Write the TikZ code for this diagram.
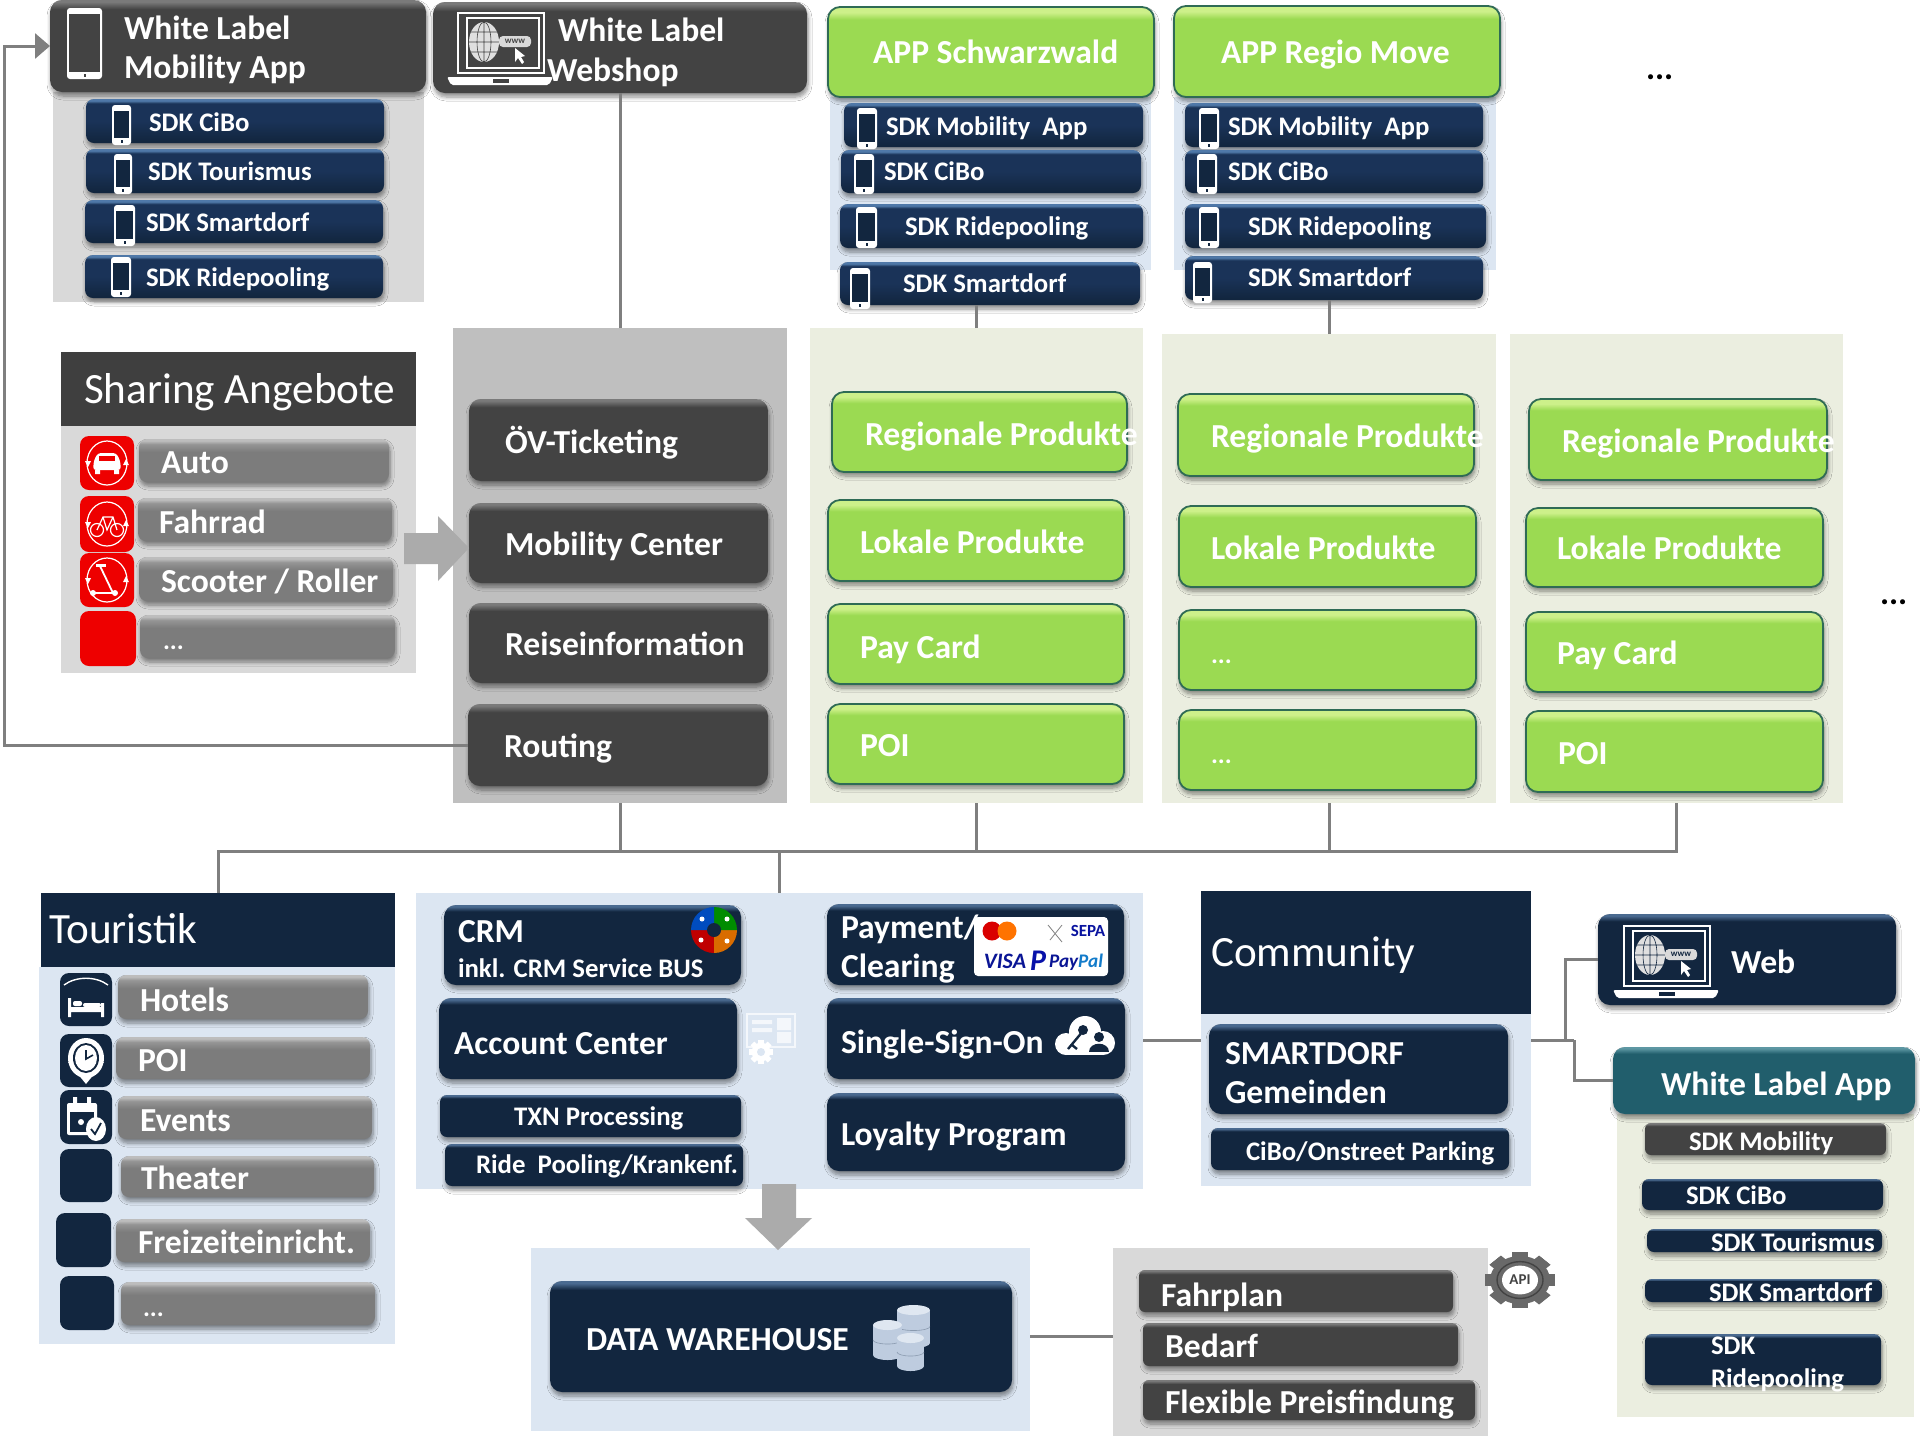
\documentclass[tikz,border=0pt]{standalone}
\usepackage{fontspec}
\setmainfont{Carlito}
\usetikzlibrary{shadows,shadows.blur,arrows.meta}
\definecolor{cnavy}{HTML}{12263F}
\definecolor{cnavyT}{HTML}{4A6A90}
\definecolor{csdk}{HTML}{1A3358}
\definecolor{csdkT}{HTML}{4F78A8}
\definecolor{cdark}{HTML}{434343}
\definecolor{cdarkT}{HTML}{7A7A7A}
\definecolor{cgrey}{HTML}{7C7C7C}
\definecolor{cgreyM}{HTML}{959595}
\definecolor{cgreyT}{HTML}{BDBDBD}
\definecolor{cgreen}{HTML}{9BDA52}
\definecolor{cgreenT}{HTML}{CDF08A}
\definecolor{cgreenB}{HTML}{74B23C}
\definecolor{cgreenL}{HTML}{2F6B55}
\definecolor{cteal}{HTML}{215E6C}
\definecolor{ctealT}{HTML}{5D97A3}
\definecolor{cblue}{HTML}{DCE6F2}
\definecolor{cbeige}{HTML}{EBEEE0}
\definecolor{cpgrey}{HTML}{D9D9D9}
\definecolor{ccore}{HTML}{BFBFBF}
\definecolor{chead}{HTML}{3F3F3F}
\definecolor{cline}{HTML}{7F7F7F}
\definecolor{carrow}{HTML}{ABABAB}
\definecolor{cred}{HTML}{EE0000}
\definecolor{ccyl}{HTML}{BECCDF}
\definecolor{ccylT}{HTML}{DFE7F1}
\pgfdeclareverticalshading{shnavy}{100bp}{color(0bp)=(cnavy); color(71bp)=(cnavy); color(74bp)=(cnavyT); color(100bp)=(cnavyT)}
\pgfdeclareverticalshading{shsdk}{100bp}{color(0bp)=(cnavy); color(27bp)=(cnavy); color(50bp)=(csdk); color(70bp)=(csdk); color(73bp)=(csdkT); color(100bp)=(csdkT)}
\pgfdeclareverticalshading{shdark}{100bp}{color(0bp)=(cdark); color(70bp)=(cdark); color(74bp)=(cdarkT); color(100bp)=(cdarkT)}
\pgfdeclareverticalshading{shgrey}{100bp}{color(0bp)=(cgrey!70!black); color(27bp)=(cgrey); color(60bp)=(cgrey); color(69bp)=(cgreyM); color(73bp)=(cgreyT); color(100bp)=(cgreyT)}
\pgfdeclareverticalshading{shgreen}{100bp}{color(0bp)=(cgreenB); color(27bp)=(cgreen); color(68bp)=(cgreen); color(72bp)=(cgreenT); color(100bp)=(cgreenT)}
\pgfdeclareverticalshading{shteal}{100bp}{color(0bp)=(cteal); color(70bp)=(cteal); color(74bp)=(ctealT); color(100bp)=(ctealT)}
\tikzset{
  x=0.5pt,y=-0.5pt,
  panelbox/.style={fill=#1,inner sep=0pt,outer sep=0pt},
  btnbase/.style={inner sep=0pt,outer sep=0pt,rounded corners=6pt,
    blur shadow={shadow xshift=0.5pt,shadow yshift=-2pt,shadow blur radius=2pt,shadow blur steps=6,shadow opacity=45}},
  btnnavy/.style={btnbase,shading=shnavy},
  btnsdk/.style={btnbase,rounded corners=4pt,shading=shsdk},
  btnsmallnavy/.style={btnbase,rounded corners=3.5pt,shading=shnavy},
  btndark/.style={btnbase,shading=shdark},
  btnsmalldark/.style={btnbase,rounded corners=3pt,shading=shdark},
  btngrey/.style={btnbase,rounded corners=4pt,shading=shgrey},
  btngreen/.style={btnbase,shading=shgreen,draw=cgreenL,line width=.9pt},
  btnteal/.style={btnbase,shading=shteal},
  iconbox/.style={inner sep=0pt,outer sep=0pt,rounded corners=4.5pt,fill=#1},
  conn/.style={draw=cline,line width=1.5pt},
  lbase/.style={anchor=west,inner sep=0pt,outer sep=0pt,text=white},
  lmain/.style={lbase,text height=1.05em,text depth=.05em,font=\bfseries\fontsize{16.8}{18}\selectfont},
  lsmall/.style={lbase,text height=.9em,text depth=.1em,font=\bfseries\fontsize{13.4}{15}\selectfont},
  lhead/.style={lbase,text height=1.14em,text depth=.06em,font=\fontsize{21.6}{24}\selectfont},
  ldots/.style={anchor=base west,inner sep=0pt,outer sep=0pt,text=white,font=\bfseries\fontsize{13}{15}\selectfont},
  lblack/.style={anchor=base west,inner sep=0pt,outer sep=0pt,text=black,font=\bfseries\fontsize{17}{18}\selectfont},
}
\newcommand{\bx}[6]{\node[#1,anchor=north west,minimum width={(#5-#3)*0.5pt},minimum height={(#6-#4)*0.5pt}] (#2) at (#3,#4) {};}
\newcommand{\tx}[5]{\node[#1] (#2) at (#3,#4) {#5};}
\newcommand{\phoneicon}[5]{%
  \fill[white,rounded corners=1.5pt] (#1,#2) rectangle (#3,#4);
  \fill[#5] (#1+2,#2+6) rectangle (#3-2,#4-7);
  \fill[#5] ({(#1+#3)/2-1},#4-5) rectangle ({(#1+#3)/2+1},#4-2);}
\newcommand{\laptopicon}[4]{%
  \begin{scope}[shift={(#1,#2)}]
    \draw[white,line width=1.2pt] (11,1) rectangle (97,61);
    \fill[#4] (20,6) rectangle (92,56);
    \draw[white,line width=.7pt] (20,6) rectangle (92,56);
    \fill[white,rounded corners=1pt] (0,65) -- (106,65) -- (102,73) -- (4,73) -- cycle;
    \fill[#4] (46,67) rectangle (62,71);
    \fill[white!75!gray] (37,30) ellipse [x radius=15,y radius=20];
    \draw[#4,line width=.3pt] (37,30) ellipse [x radius=7,y radius=20] (37,10) -- (37,50) (22,30) -- (52,30) (24,20) -- (50,20) (24,40) -- (50,40);
    \fill[white!70!gray,rounded corners=2pt] (52,24) rectangle (84,35);
    \node[inner sep=0pt,text=#4,font=\bfseries\fontsize{4.5}{5}\selectfont] (#3) at (68,29.5) {www};
    \fill[white] (68,36) -- (68,50) -- (71,46) -- (75,52) -- (77,50) -- (74,45) -- (78,44) -- cycle;
  \end{scope}}
\newcommand{\smallgear}[4]{%
  \begin{scope}[shift={(#1,#2)}]
    \foreach \a in {0,45,...,315}{\fill[#3,rotate=\a] (-#4*.22,-#4) rectangle (#4*.22,#4);}
    \fill[#3] (0,0) circle [radius=#4*.78];
  \end{scope}}
\newcommand{\cylicon}[4]{%
  \fill[ccyl] (#1,#2+5) rectangle (#3,#4-5);
  \fill[ccyl] ({(#1+#3)/2},#4-5) ellipse [x radius={(#3-#1)/2},y radius=5];
  \draw[cnavy!30!ccyl,line width=.3pt] (#1,{(#2+#4)/2}) arc[start angle=180,end angle=0,x radius={(#3-#1)/2},y radius=4];
  \fill[ccylT] ({(#1+#3)/2},#2+5) ellipse [x radius={(#3-#1)/2},y radius=5];}
\newcommand{\ringarrows}[1]{%
  \fill[white] (85,#1-2) -- (91,#1-2) -- (88,#1+4) -- cycle (129,#1+2) -- (123,#1+2) -- (126,#1-4) -- cycle;}
\begin{document}
\begin{tikzpicture}
\useasboundingbox (0,0) rectangle (1920,1436);
\fill[white] (0,0) rectangle (1920,1436);
% ---------- panels
\bx{panelbox=cpgrey}{pApp}{53}{92}{424}{302}
\bx{panelbox=ccore}{pCore}{453}{328}{787}{803}
\bx{panelbox=cblue}{pSchw}{830}{97}{1151}{270}
\bx{panelbox=cblue}{pRegio}{1174}{97}{1496}{270}
\bx{panelbox=cbeige}{pA}{810}{328}{1143}{803}
\bx{panelbox=cbeige}{pB}{1162}{334}{1496}{803}
\bx{panelbox=cbeige}{pC}{1510}{334}{1843}{803}
\bx{panelbox=cpgrey}{pShare}{61}{426}{416}{673}
\bx{panelbox=chead}{hShare}{61}{352}{416}{426}
\bx{panelbox=cblue}{pTour}{39}{967}{395}{1344}
\bx{panelbox=cnavy}{hTour}{41}{893}{395}{967}
\bx{panelbox=cblue}{pCenter}{416}{893}{1143}{1189}
\bx{panelbox=cblue}{pComm}{1201}{1014}{1531}{1186}
\bx{panelbox=cnavy}{hComm}{1201}{891}{1531}{1014}
\bx{panelbox=cbeige}{pWL}{1617}{1114}{1914}{1417}
\bx{panelbox=cblue}{pDWH}{531}{1248}{1030}{1431}
\bx{panelbox=cpgrey}{pApi}{1113}{1248}{1488}{1436}
% ---------- top buttons
\bx{btndark}{wlApp}{50}{0}{426}{92}
\bx{btndark}{wlWeb}{433}{2}{807}{93}
\bx{btngreen}{appS}{828}{7}{1154}{97}
\bx{btngreen}{appR}{1174}{6}{1500}{97}
% connectors
\coordinate (rail) at (4,0);
\coordinate (busY) at (0,851);
\coordinate (jU) at (1565,1040);
\coordinate (jD) at (1574,1040);
\draw[conn] (pCore.north) -- (wlWeb.south);
\bx{btnsdk}{sSmart}{840}{262}{1140}{305}
\bx{btnsdk}{rSmart}{1185}{256}{1483}{300}
\draw[conn] (pA.north) -- (pA.north |- sSmart.south);
\draw[conn] (pB.north) -- (pB.north |- rSmart.south);
\draw[conn] (hTour.north) -- (hTour.north |- busY) -- (pC.south |- busY) -- (pC.south);
\draw[conn] (pCore.south) -- (pCore.south |- busY);
\draw[conn] (pA.south) -- (pA.south |- busY);
\draw[conn] (pB.south) -- (pB.south |- busY);
\draw[conn] (pCenter.north) -- (pCenter.north |- busY);
% Mobility App SDKs
\bx{btnsdk}{a1}{86}{99}{384}{143}
\bx{btnsdk}{a2}{86}{149}{384}{193}
\bx{btnsdk}{a3}{85}{200}{383}{243}
\bx{btnsdk}{a4}{85}{255}{383}{298}
% Schwarzwald SDKs
\bx{btnsdk}{s1}{844}{103}{1143}{147}
\bx{btnsdk}{s2}{841}{150}{1141}{193}
\bx{btnsdk}{s3}{840}{204}{1143}{248}
% Regio SDKs
\bx{btnsdk}{r1}{1185}{103}{1483}{147}
\bx{btnsdk}{r2}{1185}{150}{1483}{193}
\bx{btnsdk}{r3}{1185}{204}{1486}{248}
% Sharing
\bx{iconbox=cred}{iS1}{80}{436}{134}{490}
\bx{iconbox=cred}{iS2}{80}{496}{134}{552}
\bx{iconbox=cred}{iS3}{80}{553}{134}{607}
\bx{iconbox=cred}{iS4}{80}{611}{136}{666}
\bx{btngrey}{sh1}{139}{439}{389}{482}
\bx{btngrey}{sh2}{138}{498}{392}{541}
\bx{btngrey}{sh3}{139}{557}{393}{601}
\bx{btngrey}{sh4}{140}{615}{395}{658}
% Core
\bx{btndark}{c1}{469}{399}{768}{481}
\bx{btndark}{c2}{469}{503}{768}{583}
\bx{btndark}{c3}{469}{603}{768}{683}
\bx{btndark}{c4}{468}{704}{768}{786}
\draw[conn,-{Triangle[length=7.5pt,width=12.5pt]}] (c4.west) -- (c4.west -| rail) -- (rail |- wlApp.west) -- (wlApp.west);
\fill[carrow] (404,533) -- (438,533) -- (438,516) -- (469,548) -- (438,581) -- (438,564) -- (404,564) -- cycle;
% Green A
\bx{btngreen}{gA1}{832}{392}{1127}{472}
\bx{btngreen}{gA2}{828}{500}{1124}{581}
\bx{btngreen}{gA3}{828}{604}{1124}{684}
\bx{btngreen}{gA4}{828}{704}{1124}{784}
% Green B
\bx{btngreen}{gB1}{1178}{394}{1474}{476}
\bx{btngreen}{gB2}{1179}{506}{1476}{587}
\bx{btngreen}{gB3}{1179}{610}{1476}{690}
\bx{btngreen}{gB4}{1179}{710}{1476}{790}
% Green C
\bx{btngreen}{gC1}{1529}{399}{1827}{480}
\bx{btngreen}{gC2}{1526}{508}{1823}{587}
\bx{btngreen}{gC3}{1526}{612}{1823}{692}
\bx{btngreen}{gC4}{1526}{711}{1823}{792}
% Touristik
\bx{iconbox=cnavy}{iT1}{60}{973}{112}{1026}
\bx{iconbox=cnavy}{iT2}{60}{1034}{112}{1087}
\bx{iconbox=cnavy}{iT3}{60}{1090}{112}{1144}
\bx{iconbox=cnavy}{iT4}{60}{1149}{112}{1202}
\bx{iconbox=cnavy}{iT5}{56}{1213}{111}{1267}
\bx{iconbox=cnavy}{iT6}{60}{1276}{114}{1330}
\bx{btngrey}{t1}{118}{975}{368}{1019}
\bx{btngrey}{t2}{116}{1037}{370}{1079}
\bx{btngrey}{t3}{118}{1096}{372}{1139}
\bx{btngrey}{t4}{121}{1156}{374}{1197}
\bx{btngrey}{t5}{116}{1219}{370}{1262}
\bx{btngrey}{t6}{121}{1282}{375}{1325}
% Center
\bx{btnnavy}{crm}{444}{905}{741}{985}
\bx{btnnavy}{acc}{439}{998}{737}{1079}
\bx{btnsmallnavy}{txn}{440}{1095}{741}{1137}
\bx{btnsmallnavy}{ride}{445}{1144}{743}{1186}
\bx{btnnavy}{pay}{827}{904}{1124}{985}
\bx{btnnavy}{sso}{827}{998}{1125}{1079}
\bx{btnnavy}{loy}{827}{1093}{1125}{1171}
\fill[carrow] (762,1184) -- (796,1184) -- (796,1218) -- (812,1218) -- (778,1250) -- (745,1218) -- (762,1218) -- cycle;
% Community
\bx{btnnavy}{smart}{1209}{1024}{1508}{1114}
\bx{btnsmallnavy}{cibo}{1211}{1128}{1509}{1170}
\draw[conn] (pCenter.east |- jU) -- (hComm.west |- jU);
\bx{btnnavy}{web}{1598}{914}{1896}{1005}
\bx{btnteal}{wla}{1613}{1047}{1915}{1114}
\draw[conn] (pComm.east |- jU) -- (jU);
\draw[conn] (jU) -- (jD);
\draw[conn] (jU) -- (jU |- web.west) -- (web.west);
\draw[conn] (jD) -- (jD |- wla.west) -- (wla.west);
\bx{btnsmalldark}{w1}{1645}{1123}{1886}{1155}
\bx{btnsmallnavy}{w2}{1642}{1179}{1883}{1210}
\bx{btnsmallnavy}{w3}{1647}{1229}{1882}{1252}
\bx{btnsmallnavy}{w4}{1645}{1279}{1882}{1302}
\bx{btnsmallnavy}{w5}{1645}{1334}{1881}{1385}
% DWH + API
\bx{btnnavy}{dwh}{550}{1281}{1012}{1392}
\draw[conn] (pDWH.east |- dwh.east) -- (pApi.west |- dwh.east);
\bx{btnsmalldark}{f1}{1139}{1270}{1453}{1312}
\bx{btnsmalldark}{f2}{1143}{1323}{1458}{1366}
\bx{btnsmalldark}{f3}{1143}{1380}{1475}{1420}
% ---------- icons
\phoneicon{67}{8}{102}{79}{cdark}
\laptopicon{447}{12}{wwwA}{cdark}
\laptopicon{1613}{925}{wwwB}{cnavy}
\phoneicon{112}{105}{131}{145}{cnavy}
\phoneicon{114}{154}{132}{194}{cnavy}
\phoneicon{114}{205}{135}{246}{cnavy}
\phoneicon{111}{257}{131}{297}{cnavy}
\phoneicon{857}{108}{877}{149}{cnavy}
\phoneicon{854}{154}{874}{194}{cnavy}
\phoneicon{856}{207}{877}{248}{cnavy}
\phoneicon{850}{268}{870}{309}{cnavy}
\phoneicon{1199}{108}{1219}{149}{cnavy}
\phoneicon{1197}{154}{1217}{194}{cnavy}
\phoneicon{1199}{207}{1219}{248}{cnavy}
\phoneicon{1193}{262}{1212}{303}{cnavy}
% sharing icons
\foreach \cy in {463,524,580}{\draw[white,line width=.6pt] (107,\cy) ellipse [x radius=20,y radius=22];\ringarrows{\cy}}
\fill[white,rounded corners=1.5pt] (93,470) -- (94,460) -- (98,453) -- (116,453) -- (120,460) -- (121,470) -- cycle;
\fill[cred] (99,456) rectangle (115,461);
\fill[white] (95,470) rectangle (100,474) (114,470) rectangle (119,474);
\draw[white,line width=.6pt] (97,530) circle [radius=6.5] (117,530) circle [radius=6.5] (97,530) -- (103,517) -- (113,517) -- (117,530) (103,517) -- (107,530) -- (113,517);
\draw[white,line width=.9pt] (100,566) -- (113,593) -- (95,593);
\fill[white] (96,564) rectangle (106,567);
\fill[white] (93,593) circle [radius=3] (115,593) circle [radius=3];
% touristik icons
\draw[white,line width=.7pt] (64,985) .. controls (76,976) and (96,976) .. (108,985);
\fill[white] (68,998) rectangle (71,1017) (101,1003) rectangle (104,1017) (71,1007) rectangle (101,1012);
\fill[white,rounded corners=1pt] (73,1001) rectangle (82,1006) (83,1003) rectangle (101,1007);
\fill[white] (86,1084) -- (68,1062) -- (104,1062) -- cycle;
\fill[white] (86,1058) ellipse [x radius=18,y radius=20];
\fill[cnavy] (86,1058) ellipse [x radius=13,y radius=15];
\fill[white] (86,1058) ellipse [x radius=11,y radius=13];
\draw[cnavy,line width=.8pt] (86,1050) -- (86,1059) -- (93,1055);
\fill[white,rounded corners=1pt] (67,1103) rectangle (97,1135);
\fill[cnavy] (70,1112) rectangle (94,1132);
\fill[white] (73,1097) rectangle (77,1107) (87,1097) rectangle (91,1107);
\fill[white] (81,1122) circle [radius=3];
\fill[white] (96,1129) ellipse [x radius=10,y radius=12];
\draw[cnavy,line width=.9pt] (91,1129) -- (95,1134) -- (101,1123);
% CRM wheel
\fill[red!75!black] (714,930) -- (691,930) arc[start angle=180,end angle=90,radius=23] -- cycle;
\fill[orange!85!black] (714,930) -- (714,953) arc[start angle=90,end angle=0,radius=23] -- cycle;
\fill[green!55!black] (714,930) -- (737,930) arc[start angle=0,end angle=-90,radius=23] -- cycle;
\fill[blue!60!cyan!75!black] (714,930) -- (714,907) arc[start angle=-90,end angle=-180,radius=23] -- cycle;
\fill[white] (701,940) circle [radius=2.5] (727,941) circle [radius=2.5] (727,919) circle [radius=2.5] (702,919) circle [radius=2.5];
\fill[cnavy] (714,930) circle [radius=7];
% account icon
\draw[white,line width=.7pt,opacity=.7] (747,1014) rectangle (795,1047);
\fill[white,opacity=.7] (752,1020) rectangle (772,1024) (752,1028) rectangle (772,1032) (777,1018) rectangle (791,1030) (777,1032) rectangle (791,1043);
\smallgear{761}{1052}{white}{12}
\fill[cblue] (761,1052) circle [radius=4];
% payment card
\fill[white,rounded corners=2pt] (974,917) rectangle (1108,976);
\fill[red!85!black] (992,931) circle [radius=9.5];
\fill[orange!90!red] (1007,931) circle [radius=9.5];
\draw[gray,line width=.4pt] (1050,940) -- (1062,925) (1048,925) -- (1062,942);
\node[inner sep=0pt,text=blue!50!cnavy,font=\bfseries\fontsize{8.5}{9}\selectfont] (tSepa) at (1088,931) {SEPA};
\node[inner sep=0pt,text=blue!45!cnavy,font=\bfseries\itshape\fontsize{11}{12}\selectfont] (tVisa) at (1005,961) {VISA};
\node[inner sep=0pt,text=blue!55!cnavy,font=\bfseries\itshape\fontsize{15}{17}\selectfont] (tP) at (1038,961) {P};
\node[inner sep=0pt,text=blue!45!cnavy,font=\bfseries\itshape\fontsize{9.6}{12}\selectfont] (tPal) at (1076,962) {Pay\textcolor{cyan!60!blue}{Pal}};
% cloud
\fill[white] (1066,1044) circle [radius=11] (1085,1032) circle [radius=16] (1103,1043) circle [radius=12];
\fill[white] (1066,1043) rectangle (1103,1055);
\fill[cnavy] (1083,1030) circle [radius=5];
\draw[cnavy,line width=1.2pt] (1083,1031) -- (1068,1049) (1072,1045) -- (1077,1049);
\fill[cnavy] (1099,1037) circle [radius=5];
\fill[cnavy] (1089,1052) .. controls (1089,1041) and (1109,1041) .. (1109,1052) -- cycle;
% cylinders
\cylicon{897}{1305}{930}{1348}
\cylicon{873}{1320}{902}{1360}
\cylicon{897}{1333}{924}{1371}
% API gear
\begin{scope}[shift={(1520,1280)},yscale=.8]
  \foreach \a in {0,45,...,315}{\fill[cdark!80,rotate=\a] (-8,-35) rectangle (8,35);}
  \fill[cdark!80] (0,0) circle [radius=30];
  \fill[white] (0,0) circle [radius=18];
  \draw[cdark,line width=.7pt] (0,0) circle [radius=23];
\end{scope}
\node[inner sep=0pt,text=cdark,font=\bfseries\fontsize{7.5}{8}\selectfont] (tApi) at (1520,1280) {API};
% ---------- text
\tx{lmain}{l1}{124}{29}{White Label}
\tx{lmain}{l2}{124}{68}{Mobility App}
\tx{lmain}{l3}{558}{31}{White Label}
\tx{lmain}{l4}{547}{71}{Webshop}
\tx{lmain}{l5}{873}{53}{APP Schwarzwald}
\tx{lmain}{l6}{1221}{53}{APP Regio Move}
\tx{lsmall}{n1}{149}{123}{SDK CiBo}
\tx{lsmall}{n2}{148}{172}{SDK Tourismus}
\tx{lsmall}{n3}{146}{223}{SDK Smartdorf}
\tx{lsmall}{n4}{146}{278}{SDK Ridepooling}
\tx{lsmall}{n5}{886}{127}{SDK Mobility\ \ App}
\tx{lsmall}{n6}{884}{172}{SDK CiBo}
\tx{lsmall}{n7}{905}{227}{SDK Ridepooling}
\tx{lsmall}{n8}{903}{284}{SDK Smartdorf}
\tx{lsmall}{n9}{1228}{127}{SDK Mobility\ \ App}
\tx{lsmall}{n10}{1228}{172}{SDK CiBo}
\tx{lsmall}{n11}{1248}{227}{SDK Ridepooling}
\tx{lsmall}{n12}{1248}{278}{SDK Smartdorf}
\tx{lhead}{h1}{84}{393}{Sharing Angebote}
\tx{lmain}{m1}{161}{463}{Auto}
\tx{lmain}{m2}{159}{523}{Fahrrad}
\tx{lmain}{m3}{161}{582}{Scooter / Roller}
\tx{ldots}{m4}{163}{649}{...}
\tx{lmain}{c1t}{505}{443}{ÖV-Ticketing}
\tx{lmain}{c2t}{505}{545}{Mobility Center}
\tx{lmain}{c3t}{505}{645}{Reiseinformation}
\tx{lmain}{c4t}{504}{747}{Routing}
\tx{lmain}{g1}{865}{435}{Regionale Produkte}
\tx{lmain}{g2}{860}{543}{Lokale Produkte}
\tx{lmain}{g3}{860}{648}{Pay Card}
\tx{lmain}{g4}{860}{746}{POI}
\tx{lmain}{g5}{1211}{437}{Regionale Produkte}
\tx{lmain}{g6}{1211}{549}{Lokale Produkte}
\tx{ldots}{g7}{1211}{663}{...}
\tx{ldots}{g8}{1211}{763}{...}
\tx{lmain}{g9}{1562}{442}{Regionale Produkte}
\tx{lmain}{g10}{1557}{549}{Lokale Produkte}
\tx{lmain}{g11}{1557}{654}{Pay Card}
\tx{lmain}{g12}{1558}{754}{POI}
\tx{lblack}{d1}{1646}{79}{...}
\tx{lblack}{d2}{1880}{604}{...}
\tx{lhead}{h2}{49}{933}{Touristik}
\tx{lmain}{q1}{140}{1001}{Hotels}
\tx{lmain}{q2}{138}{1061}{POI}
\tx{lmain}{q3}{140}{1121}{Events}
\tx{lmain}{q4}{141}{1179}{Theater}
\tx{lmain}{q5}{138}{1243}{Freizeiteinricht.}
\tx{ldots}{q6}{143}{1316}{...}
\tx{lmain}{e1}{458}{932}{CRM}
\tx{lsmall}{e2}{458}{969}{inkl. CRM Service BUS}
\tx{lmain}{e3}{454}{1044}{Account Center}
\tx{lsmall}{e4}{514}{1117}{TXN\ Processing}
\tx{lsmall}{e5}{476}{1165}{Ride\ \ Pooling/Krankenf.}
\tx{lmain}{e6}{841}{928}{Payment/}
\tx{lmain}{e7}{841}{967}{Clearing}
\tx{lmain}{e8}{841}{1043}{Single-Sign-On}
\tx{lmain}{e9}{841}{1135}{Loyalty Program}
\tx{lhead}{h3}{1211}{956}{Community}
\tx{lmain}{k1}{1225}{1054}{SMARTDORF}
\tx{lmain}{k2}{1225}{1093}{Gemeinden}
\tx{lsmall}{k3}{1246}{1152}{CiBo/Onstreet Parking}
\tx{lmain}{k4}{1731}{963}{Web}
\tx{lmain}{k5}{1661}{1085}{White Label App}
\tx{lsmall}{w1t}{1689}{1142}{SDK Mobility}
\tx{lsmall}{w2t}{1686}{1196}{SDK CiBo}
\tx{lsmall}{w3t}{1711}{1243}{SDK Tourismus}
\tx{lsmall}{w4t}{1709}{1293}{SDK Smartdorf}
\tx{lsmall}{w5t}{1711}{1346}{SDK}
\tx{lsmall}{w6t}{1711}{1379}{Ridepooling}
\tx{lmain}{dwht}{586}{1340}{DATA WAREHOUSE}
\tx{lmain}{f1t}{1161}{1296}{Fahrplan}
\tx{lmain}{f2t}{1165}{1347}{Bedarf}
\tx{lmain}{f3t}{1165}{1403}{Flexible Preisfindung}
\end{tikzpicture}
\end{document}
